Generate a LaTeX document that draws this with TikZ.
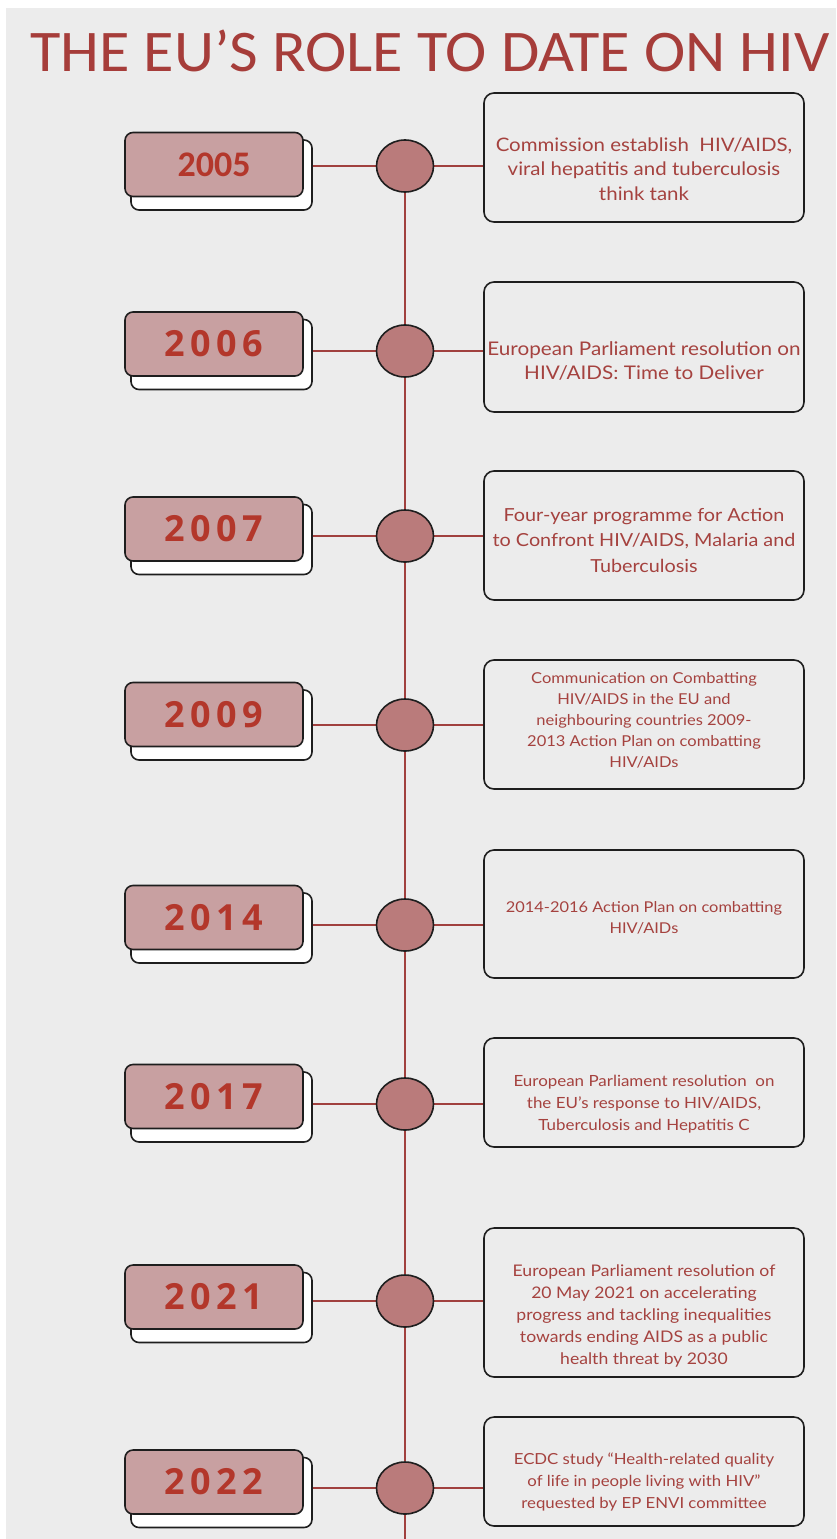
\documentclass[tikz,border=0pt]{standalone}
\usepackage{fontspec}
\setmainfont[FakeStretch=1.1]{Lato}
\newfontfamily\titlefont[FakeStretch=1.055]{Carlito}
\newfontfamily\yearfont[LetterSpace=15]{Open Sans}
\newfontfamily\yearplain{Carlito}
\usetikzlibrary{shapes.geometric}
\pgfdeclarelayer{paper}
\pgfdeclarelayer{lines}
\pgfsetlayers{paper,lines,main}
\definecolor{paper}{HTML}{ECECEC}
\definecolor{titlered}{HTML}{A63D3A}
\definecolor{linered}{HTML}{A0403E}
\definecolor{dotfill}{HTML}{BA7B7B}
\definecolor{yearfill}{HTML}{C8A0A1}
\definecolor{yeartext}{HTML}{B3372B}
\definecolor{bodytext}{HTML}{A5423F}
\definecolor{outline}{HTML}{1E1E1E}
\tikzset{
  shadowbox/.style={draw=outline, fill=white, line width=1.6pt, rounded corners=8pt,
    minimum width=181pt, minimum height=70pt, inner sep=0pt},
  yearbox/.style={draw=outline, fill=yearfill, line width=1.6pt, rounded corners=8pt,
    minimum width=178pt, minimum height=64pt, inner sep=0pt, text=yeartext,
    font=\fontsize{36}{40}\yearfont\bfseries},
  dot/.style={ellipse, draw=outline, fill=dotfill, line width=1.6pt,
    minimum width=57pt, minimum height=52pt, inner sep=0pt},
  infobox/.style={draw=outline, line width=1.6pt, rounded corners=10pt,
    minimum width=320pt, inner sep=0pt},
  infotext/.style={text=bodytext, align=center, inner sep=0pt},
  tl/.style={draw=linered, line width=2pt},
}
% #1 name, #2 dot y, #3 box top, #4 box bottom, #5 year box y, #6 year,
% #7 text y, #8 font, #9 text
\newcommand\tlrow[9]{%
  \node[shadowbox] (s#1) at (221.5,#5+10.5) {};
  \node[yearbox] (y#1) at (214,#5) {#6};
  \node[dot] (c#1) at (405,#2) {};
  \node[infobox, minimum height={#4-#3}] (b#1) at (644,{(#3+#4)/2}) {};
  \node[infotext, font={#8}] (t#1) at (644,#7) {#9};
  \begin{pgfonlayer}{lines}
  \draw[tl] (s#1.east |- c#1.center) -- (c#1.west);
  \draw[tl] (c#1.east) -- (c#1.east -| b#1.west);
  \end{pgfonlayer}
}
\begin{document}
\begin{tikzpicture}[x=1pt,y=-1pt]
\useasboundingbox (0,0) rectangle (836,1539);
\begin{pgfonlayer}{paper}
\fill[paper] (6,8) rectangle (836,1539);
\end{pgfonlayer}
\node[anchor=base west, inner sep=0pt, text=titlered, font=\fontsize{59}{60}\titlefont] (title) at (30,71) {THE EU’S ROLE TO DATE ON HIV};

\tlrow{2005}{166}{93}{222}{164.5}{\yearplain\bfseries 2005}{169}%
  {\fontsize{18.6}{24.5}\selectfont}{Commission establish\ \ HIV/AIDS,\\viral hepatitis and tuberculosis\\think tank}
\tlrow{2006}{351}{282}{412}{344}{2006\hspace{-5pt}}{361}%
  {\fontsize{18.8}{24}\selectfont}{European Parliament resolution on\\HIV/AIDS: Time to Deliver}
\tlrow{2007}{536}{471}{600}{529}{2007\hspace{-5pt}}{540}%
  {\fontsize{18}{25.5}\selectfont}{Four-year programme for Action\\to Confront HIV/AIDS, Malaria and\\Tuberculosis}
\tlrow{2009}{725}{660}{789}{714.5}{2009\hspace{-5pt}}{720}%
  {\fontsize{15}{21}\selectfont}{Communication on Combatting\\HIV/AIDS in the EU and\\neighbouring countries 2009-\\2013 Action Plan on combatting\\HIV/AIDs}
\tlrow{2014}{925}{850}{978}{917.5}{2014\hspace{-5pt}}{918}%
  {\fontsize{14.9}{21}\selectfont}{2014-2016 Action Plan on combatting\\HIV/AIDs}
\tlrow{2017}{1104}{1038}{1147}{1096.5}{2017\hspace{-5pt}}{1104}%
  {\fontsize{15.4}{22}\selectfont}{European Parliament resolution\ \ on\\the EU’s response to HIV/AIDS,\\Tuberculosis and Hepatitis C}
\tlrow{2021}{1301}{1228}{1377}{1297}{2021\hspace{-5pt}}{1316}%
  {\fontsize{16}{22}\selectfont}{European Parliament resolution of\\20 May 2021 on accelerating\\progress and tackling inequalities\\towards ending AIDS as a public\\health threat by 2030}
\tlrow{2022}{1488}{1417}{1526}{1482}{2022\hspace{-5pt}}{1482}%
  {\fontsize{15.25}{22}\selectfont}{ECDC study “Health-related quality\\of life in people living with HIV”\\requested by EP ENVI committee}

\coordinate (bottom) at (405,1539);
\begin{pgfonlayer}{lines}
\draw[tl] (c2005) -- (c2006);
\draw[tl] (c2006) -- (c2007);
\draw[tl] (c2007) -- (c2009);
\draw[tl] (c2009) -- (c2014);
\draw[tl] (c2014) -- (c2017);
\draw[tl] (c2017) -- (c2021);
\draw[tl] (c2021) -- (c2022);
\draw[tl] (c2022) -- (bottom);
\end{pgfonlayer}
\end{tikzpicture}
\end{document}
